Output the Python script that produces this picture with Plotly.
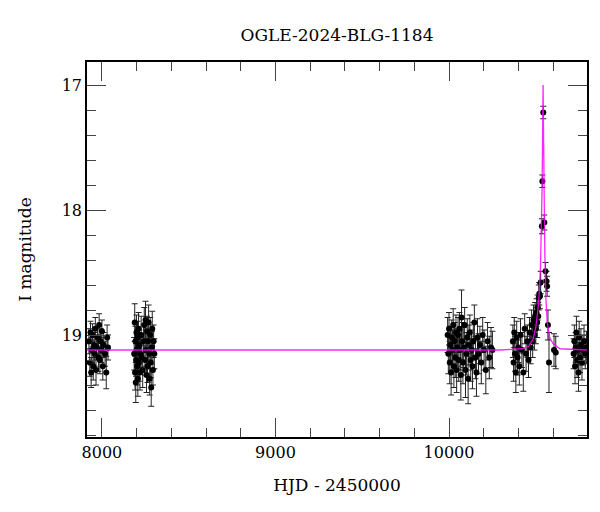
import plotly.graph_objects as go

# observing seasons: HJD - 2450000, I mag, error
t_s1 = [7925, 7930, 7934, 7938, 7942, 7946, 7950, 7955, 7958, 7962, 7966, 7970, 7975,
        7980, 7984, 7988, 7992, 7996, 8000, 8005, 8010, 8018, 8025, 8030, 8035]
m_s1 = [19.05, 19.22, 18.98, 19.30, 19.12, 19.00, 19.25, 19.08, 19.15, 18.95, 19.28, 19.10, 19.02,
        19.18, 18.92, 19.20, 19.05, 19.12, 18.97, 19.25, 19.08, 19.15, 19.30, 19.02, 19.10]
e_s1 = [0.10, 0.11, 0.09, 0.12, 0.10, 0.09, 0.11, 0.10, 0.10, 0.09, 0.12, 0.10, 0.09,
        0.11, 0.09, 0.11, 0.10, 0.10, 0.09, 0.11, 0.10, 0.10, 0.13, 0.10, 0.10]

t_s2 = [8186, 8189, 8191, 8193, 8195, 8197, 8199, 8201, 8203, 8205, 8207, 8209, 8211, 8213,
        8216, 8219, 8222, 8226, 8230, 8235, 8240, 8244, 8248, 8251, 8254, 8257, 8260, 8263,
        8266, 8269, 8272, 8275, 8278, 8281, 8284, 8287, 8290, 8294, 8298, 8302]
m_s2 = [19.15, 18.90, 19.30, 19.05, 19.38, 19.20, 18.98, 19.12, 19.25, 19.02, 19.35, 19.10, 18.95, 19.22,
        19.08, 19.30, 19.15, 19.00, 19.18, 19.28, 19.05, 18.92, 19.20, 18.88, 19.12, 19.32, 18.97, 19.25,
        19.05, 18.90, 19.15, 19.35, 19.00, 19.22, 19.42, 19.10, 18.95, 19.28, 19.05, 19.15]
e_s2 = [0.13, 0.15, 0.14, 0.12, 0.16, 0.13, 0.14, 0.12, 0.15, 0.13, 0.14, 0.12, 0.13, 0.15,
        0.12, 0.14, 0.13, 0.15, 0.12, 0.14, 0.13, 0.14, 0.12, 0.15, 0.13, 0.14, 0.12, 0.13,
        0.15, 0.14, 0.12, 0.13, 0.14, 0.12, 0.15, 0.13, 0.14, 0.12, 0.13, 0.12]

t_s3 = [9992, 9996, 10000, 10004, 10008, 10012, 10016, 10020, 10024, 10028, 10032, 10036, 10040,
        10044, 10048, 10052, 10056, 10060, 10064, 10068, 10072, 10076, 10080, 10085, 10090, 10095,
        10100, 10105, 10110, 10115, 10120, 10125, 10130, 10135, 10140, 10146, 10152, 10158, 10164,
        10170, 10178, 10186, 10194, 10202, 10212, 10222, 10232, 10242, 10250]
m_s3 = [19.00, 19.15, 18.95, 19.22, 19.08, 19.30, 19.02, 19.12, 18.92, 19.25, 19.05, 19.18, 18.98,
        19.28, 19.10, 19.00, 19.20, 18.95, 19.12, 19.32, 18.86, 19.05, 19.22, 19.10, 18.92, 19.28,
        19.15, 19.02, 19.35, 19.08, 18.98, 19.20, 19.12, 19.25, 19.05, 18.90, 19.18, 19.30, 19.02,
        19.15, 19.08, 19.22, 19.00, 19.12, 19.28, 19.05, 19.18, 19.10, 19.12]
e_s3 = [0.14, 0.16, 0.13, 0.17, 0.15, 0.18, 0.14, 0.16, 0.13, 0.17, 0.15, 0.16, 0.14,
        0.18, 0.15, 0.14, 0.17, 0.13, 0.16, 0.20, 0.22, 0.15, 0.17, 0.16, 0.14, 0.22,
        0.17, 0.15, 0.20, 0.16, 0.14, 0.17, 0.16, 0.18, 0.15, 0.14, 0.17, 0.19, 0.15,
        0.16, 0.15, 0.17, 0.14, 0.16, 0.19, 0.15, 0.17, 0.16, 0.15]

t_s4 = [10368, 10372, 10376, 10380, 10385, 10390, 10395, 10400, 10405, 10412, 10420, 10428, 10436,
        10444, 10452, 10458, 10464, 10470, 10476, 10482, 10487, 10492, 10496, 10500, 10504, 10508,
        10511, 10514, 10517, 10520, 10524, 10528,
        10535, 10538, 10543, 10549, 10556, 10562, 10565, 10570, 10576, 10605, 10615]
m_s4 = [19.05, 19.22, 18.98, 19.15, 19.30, 19.02, 19.18, 19.10, 19.25, 19.00, 19.12, 19.30, 18.95,
        19.15, 19.05, 19.20, 18.98, 19.10, 18.92, 19.05, 18.88, 19.00, 18.85, 18.95, 18.82, 18.90,
        18.78, 18.85, 18.70, 18.67, 18.69, 18.58,
        18.13, 17.77, 17.22, 18.10, 18.49, 18.57, 18.61, 18.92, 19.22, 19.12, 19.14]
e_s4 = [0.13, 0.15, 0.12, 0.14, 0.16, 0.13, 0.14, 0.12, 0.15, 0.13, 0.14, 0.15, 0.12,
        0.14, 0.13, 0.14, 0.12, 0.13, 0.12, 0.13, 0.12, 0.12, 0.11, 0.12, 0.11, 0.12,
        0.10, 0.11, 0.10, 0.09, 0.10, 0.09,
        0.06, 0.05, 0.05, 0.06, 0.07, 0.08, 0.08, 0.12, 0.24, 0.13, 0.13]

t_s5 = [10718, 10722, 10726, 10730, 10734, 10738, 10742, 10746, 10750, 10755, 10760, 10766,
        10772, 10778, 10785, 10792]
m_s5 = [19.15, 19.05, 19.25, 19.10, 18.98, 19.20, 19.12, 19.30, 19.02, 19.18, 19.08, 19.22,
        19.12, 19.05, 19.15, 19.10]
e_s5 = [0.12, 0.13, 0.14, 0.12, 0.13, 0.14, 0.12, 0.15, 0.13, 0.12, 0.13, 0.14,
        0.12, 0.13, 0.12, 0.13]

# model light curve
t_model = [7914, 10300, 10420, 10460, 10485, 10500, 10512, 10520, 10527, 10532, 10536, 10539,
           10542, 10545, 10548, 10552, 10558, 10566, 10580, 10600, 10640, 10795]
m_model = [19.12, 19.12, 19.11, 19.09, 19.03, 18.94, 18.80, 18.66, 18.45, 18.20, 17.85, 17.45,
           17.00, 17.45, 17.90, 18.35, 18.70, 18.90, 19.02, 19.07, 19.11, 19.12]

t_obs = t_s1 + t_s2 + t_s3 + t_s4 + t_s5
m_obs = m_s1 + m_s2 + m_s3 + m_s4 + m_s5
e_obs = e_s1 + e_s2 + e_s3 + e_s4 + e_s5

font = "DejaVu Serif"

fig = go.Figure()
fig.add_trace(go.Scatter(
    x=t_obs, y=m_obs, mode="markers",
    marker=dict(color="black", size=6),
    error_y=dict(type="data", array=e_obs, color="#222222", thickness=1, width=3),
    showlegend=False,
))
fig.add_trace(go.Scatter(
    x=t_model, y=m_model, mode="lines",
    line=dict(color="#ff00ff", width=1.3),
    opacity=0.85, showlegend=False,
))

axis_common = dict(
    showline=True, linecolor="black", linewidth=1.5, mirror="allticks",
    ticks="inside", ticklen=19, tickwidth=1, tickcolor="#444444",
    showgrid=False, zeroline=False,
    tickfont=dict(family=font, size=16, color="black"),
)

fig.update_xaxes(
    range=[7914, 10795], tick0=8000, dtick=1000, tickformat="d",
    minor=dict(dtick=200, tick0=8000, ticklen=9, ticks="inside", tickcolor="#444444", showgrid=False),
    title=dict(text="HJD - 2450000", font=dict(family=font, size=17, color="black"), standoff=18),
    **axis_common,
)
fig.update_yaxes(
    range=[19.816, 16.816], tick0=17, dtick=1,
    minor=dict(dtick=0.2, tick0=17, ticklen=9, ticks="inside", tickcolor="#444444", showgrid=False),
    title=dict(text="I magnitude", font=dict(family=font, size=17, color="black"), standoff=26),
    **axis_common,
)

# the page body adds an 8px offset, so the figure is a little smaller
fig.update_layout(
    width=592, height=504,
    margin=dict(l=79, r=13, t=54, b=75),
    paper_bgcolor="white", plot_bgcolor="white",
    title=dict(text="OGLE-2024-BLG-1184", x=0.5557, xanchor="center", y=0.946, yanchor="middle",
               font=dict(family=font, size=17, color="black")),
)

fig.write_html("out.html")
